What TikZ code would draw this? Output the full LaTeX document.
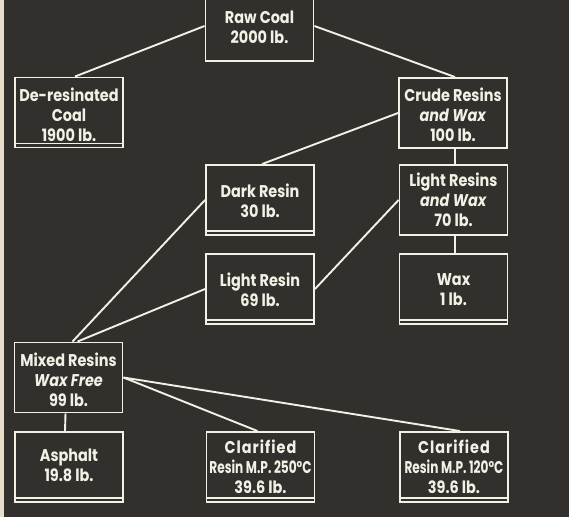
\documentclass[tikz,border=0pt]{standalone}
\usepackage{fontspec}
\setmainfont{Poppins}[FakeStretch=0.85]
\usetikzlibrary{calc}
\definecolor{board}{HTML}{332F2C}
\definecolor{chalk}{HTML}{F3F0E6}
\definecolor{paper}{HTML}{E6DEC8}
\tikzset{
  box/.style={draw=chalk, line width=1.9pt, minimum width=108pt,
    minimum height=70pt, inner sep=0pt},
  lbl/.style={text=chalk, align=center, inner sep=0pt,
    font=\fontsize{17}{20}\selectfont\bfseries},
  link/.style={draw=chalk, line width=1.9pt},
  under/.style={draw=chalk, line width=1.9pt}
}
\newcommand{\undr}[1]{\draw[under] ($(#1.south west)+(0,-5)$) -- ($(#1.south east)+(0,-5)$);}
\newcommand{\spaced}[1]{{\addfontfeature{LetterSpace=6}#1}}
\begin{document}
\begin{tikzpicture}[x=1pt,y=-1pt]
\useasboundingbox (0,0) rectangle (569,517);
\fill[board] (0,0) rectangle (569,517);
\fill[paper] (0,0) rectangle (4,517);
\begin{scope}
\clip (0,0) rectangle (569,517);
\node[box] (raw) at (259.5,26) {};
\end{scope}
\node[lbl] (rawt) at ($(raw)+(0,1)$) {Raw Coal\\2000 lb.};
\node[box] (deres) at (69,112.5) {};
\node[lbl] (derest) at ($(deres)+(0,2)$) {De-resinated\\Coal\\1900 lb.};
\node[box] (crude) at (453,113) {};
\node[lbl] (crudet) at ($(crude)+(0,2)$) {Crude Resins\\\textit{and Wax}\\100 lb.};
\node[box] (dark) at (260,200) {};
\node[lbl] (darkt) at ($(dark)+(0,1)$) {Dark Resin\\30 lb.};
\node[box] (lrw) at (453.5,200) {};
\node[lbl] (lrwt) at ($(lrw)+(0,0)$) {Light Resins\\\textit{and Wax}\\70 lb.};
\node[box] (light) at (260,289) {};
\node[lbl] (lightt) at ($(light)+(0,1)$) {Light Resin\\69 lb.};
\node[box] (wax) at (453.5,289) {};
\node[lbl] (waxt) at ($(wax)+(0,1)$) {Wax\\1 lb.};
\node[box] (mixed) at (68.5,377.5) {};
\node[lbl] (mixedt) at ($(mixed)+(0,2)$) {Mixed Resins\\\textit{Wax Free}\\99 lb.};
\node[box] (asph) at (69,467) {};
\node[lbl] (asphart) at ($(asph)+(0,-2)$) {Asphalt\\19.8 lb.};
\node[box] (c250) at (260.5,467) {};
\node[lbl] (c250t) at ($(c250)+(0,0)$) {\spaced{Clarified}\\\scalebox{0.84}[1]{Resin M.P. 250°C}\\39.6 lb.};
\node[box] (c120) at (454,467) {};
\node[lbl] (c120t) at ($(c120)+(0,0)$) {\spaced{Clarified}\\\scalebox{0.84}[1]{Resin M.P. 120°C}\\39.6 lb.};
\foreach \n in {deres,dark,light,wax,asph,c250,c120} {\undr{\n}}
\draw[link] (raw.west) -- ($(deres.north)+(6,0)$);
\draw[link] (raw.east) -- ($(crude.north)+(2,0)$);
\draw[link] (crude.west) -- ($(dark.north)+(2,0)$);
\draw[link] ($(crude.south)+(2,0)$) -- ($(lrw.north)+(1.5,0)$);
\draw[link] ($(lrw.south)+(1.5,0)$) -- ($(wax.north)+(1.5,0)$);
\draw[link] (lrw.west) -- (light.east);
\draw[link] (dark.west) -- ($(mixed.north)+(4,0)$);
\draw[link] (light.west) -- ($(mixed.north)+(9,0)$);
\draw[link] (mixed.east) -- ($(c250.north)+(-3,0)$);
\draw[link] (mixed.east) -- ($(c120.north)+(6,0)$);
\draw[link] ($(mixed.south)+(-3,0)$) -- ($(asph.north)+(-4,0)$);
\end{tikzpicture}
\end{document}
